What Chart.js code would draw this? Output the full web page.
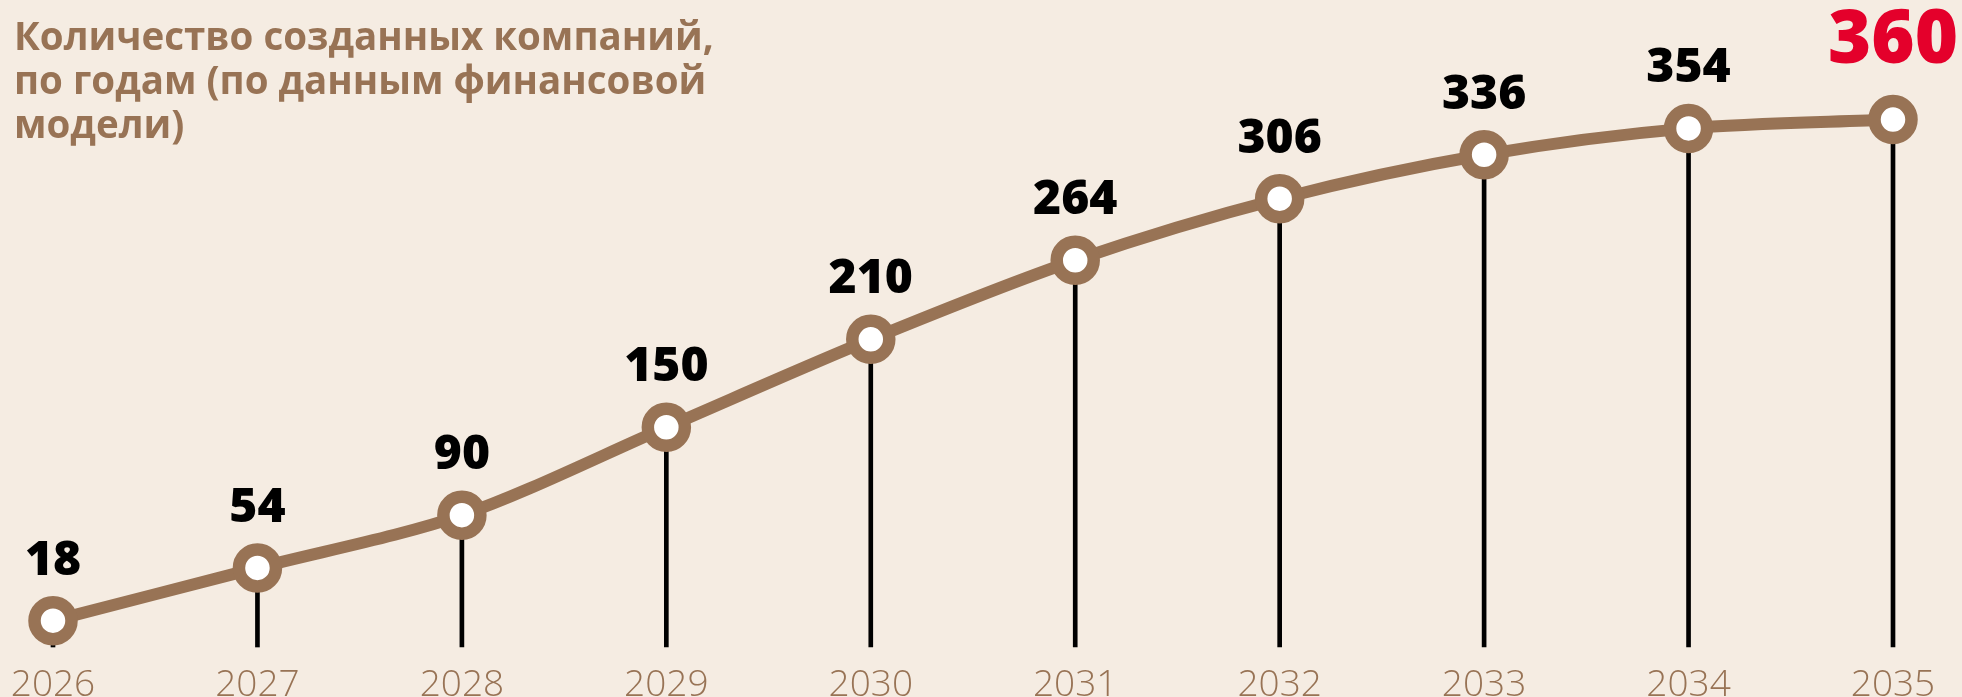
<!DOCTYPE html>
<html lang="ru">
<head>
  <meta charset="UTF-8">
  <title>Количество созданных компаний</title>
  <script src="https://cdn.jsdelivr.net/npm/chart.js"></script>
  <style>
    body { margin: 0; background: #f5ece2; font-family: "Open Sans", sans-serif; overflow: hidden; }
    .wrap { position: relative; width: 1962px; height: 697px; }
    .titulo { position: absolute; left: 14px; top: 13px; font-size: 38.5px; line-height: 44px; font-weight: 700; color: #987355; z-index: 2; }
  </style>
</head>
<body>
<div class="wrap">
  <div class="titulo">Количество созданных компаний,<br>по годам (по данным финансовой<br>модели)</div>
  <canvas id="grafico"></canvas>
</div>

<script>
const anos = ["2026", "2027", "2028", "2029", "2030", "2031", "2032", "2033", "2034", "2035"];
const empresas = [18, 54, 90, 150, 210, 264, 306, 336, 354, 360];

const marrom = "#987355";

// rótulos de valor acima dos pontos
const rotulos = {
  id: "rotulos",
  afterDatasetsDraw(chart) {
    const ctx = chart.ctx;
    const meta = chart.getDatasetMeta(0);
    ctx.save();
    ctx.textAlign = "center";
    ctx.textBaseline = "alphabetic";
    meta.data.forEach((pt, i) => {
      const ultimo = i === empresas.length - 1;
      ctx.fillStyle = ultimo ? "#e4002b" : "#000";
      ctx.font = ultimo ? "800 74px 'Open Sans'" : "800 48px 'Open Sans'";
      ctx.fillText(String(empresas[i]), pt.x, pt.y - (ultimo ? 57 : 46));
    });
    ctx.restore();
  }
};

new Chart(document.getElementById("grafico"), {
  type: "line",
  data: {
    labels: anos,
    datasets: [{
      type: "line",
      data: empresas,
      borderColor: marrom,
      borderWidth: 12,
      tension: 0.3,
      pointRadius: 18.5,
      pointHoverRadius: 18.5,
      pointBorderWidth: 12.5,
      pointBackgroundColor: "#fff",
      pointBorderColor: marrom,
      clip: false,
      order: 0
    }, {
      type: "bar",
      data: empresas,
      backgroundColor: "#000",
      barThickness: 4,
      clip: false,
      order: 1
    }]
  },
  options: {
    responsive: true,
    maintainAspectRatio: false,
    animation: false,
    events: [],
    layout: { padding: { left: 53, right: 69, top: 61, bottom: 0 } },
    plugins: { legend: { display: false }, tooltip: { enabled: false } },
    scales: {
      x: {
        offset: false,
        grid: { display: false, drawTicks: false },
        border: { display: false },
        ticks: { color: marrom, padding: 16, font: { family: "Open Sans", size: 37, weight: 300 } },
        afterFit(scale) {
          scale.height = 50;
          scale.paddingLeft = 0;
          scale.paddingRight = 0;
        }
      },
      y: { display: false, min: 0, max: 400 }
    }
  },
  plugins: [rotulos]
});
</script>
</body>
</html>
